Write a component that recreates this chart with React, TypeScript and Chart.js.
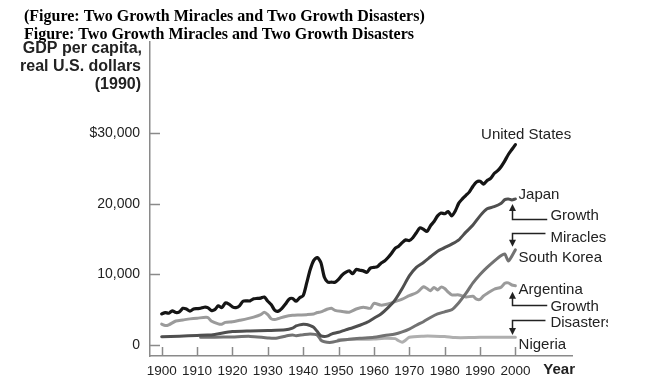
import React, { useEffect, useRef } from "react";
import { Chart, registerables } from "chart.js";

Chart.register(...registerables);

// ---------- data (GDP per capita, 1990 US$) ----------
const usYears = [1900,1901,1902,1903,1904,1905,1906,1907,1908,1909,1910,1911,1912,1913,1914,1915,1916,1917,1918,1919,1920,1921,1922,1923,1924,1925,1926,1927,1928,1929,1930,1931,1932,1933,1934,1935,1936,1937,1938,1939,1940,1941,1942,1943,1944,1945,1946,1947,1948,1949,1950,1951,1952,1953,1954,1955,1956,1957,1958,1959,1960,1961,1962,1963,1964,1965,1966,1967,1968,1969,1970,1971,1972,1973,1974,1975,1976,1977,1978,1979,1980,1981,1982,1983,1984,1985,1986,1987,1988,1989,1990,1991,1992,1993,1994,1995,1996,1997,1998,1999,2000];
const usValues = [4400,4600,4500,4850,4600,4700,5200,5100,4800,5100,5150,5200,5350,5300,4900,5000,5550,5300,5950,5800,5400,5300,5550,6200,6250,6250,6550,6600,6650,6800,6200,5700,4900,4800,5200,5800,6500,6600,6200,6700,7000,8800,10700,12000,12400,11700,9600,8900,8900,8900,9300,9900,10300,10500,10100,10700,10600,10500,10300,10900,11000,11100,11600,11900,12400,13000,13700,14000,14500,14900,14800,15200,15900,16600,16400,16100,16900,17500,18300,18700,18600,18900,18300,19000,20100,20700,21200,21700,22500,23100,23200,22800,23300,23600,24300,24700,25300,26100,27000,27700,28400];

const japanYears = [1900,1905,1910,1913,1915,1920,1925,1930,1935,1937,1938,1939,1940,1941,1942,1943,1944,1945,1946,1947,1948,1950,1952,1954,1956,1958,1960,1962,1964,1966,1968,1970,1972,1974,1976,1978,1980,1982,1984,1986,1988,1990,1992,1994,1996,1997,1998,1999,2000];
const japanValues = [1180,1250,1350,1400,1500,1900,2000,2050,2150,2400,2700,2850,2950,2900,2750,2500,1900,1300,1200,1300,1550,1800,2150,2450,2800,3200,3800,4400,5300,6400,8000,9800,11000,11700,12500,13300,13800,14300,14900,16000,17000,18300,19300,19600,20100,20600,20700,20550,20700];

const koreaYears = [1911,1915,1920,1925,1930,1932,1935,1937,1938,1940,1942,1944,1945,1946,1948,1950,1953,1956,1960,1963,1966,1968,1970,1972,1974,1976,1978,1980,1982,1984,1986,1988,1990,1992,1994,1996,1997,1998,1999,2000];
const koreaValues = [1080,1100,1150,1220,1000,950,1250,1400,1320,1450,1550,1400,700,450,380,600,800,950,1100,1350,1550,1850,2250,2800,3300,3900,4400,4700,5000,6000,7300,8800,10000,11000,11900,12700,12900,11900,12600,13500];

const argentinaYears = [1900,1901,1902,1904,1906,1908,1910,1913,1914,1916,1917,1918,1920,1922,1924,1926,1928,1929,1930,1931,1932,1933,1935,1937,1939,1941,1943,1944,1945,1946,1947,1948,1949,1951,1953,1955,1957,1959,1960,1962,1964,1966,1968,1970,1972,1973,1974,1975,1976,1977,1978,1979,1980,1981,1982,1984,1986,1988,1989,1990,1991,1992,1994,1996,1997,1998,1999,2000];
const argentinaValues = [2950,2750,2850,3400,3550,3700,3800,3900,3400,3000,2950,3200,3300,3500,3700,3950,4300,4650,4300,3700,3600,3750,4050,4200,4250,4300,4400,4600,4700,4900,5100,5200,4900,4750,4650,5100,5350,5200,5900,5650,5800,6150,6500,7000,7400,7800,8250,8000,7700,8150,7800,8200,8000,7500,7100,7100,6800,6900,6500,6450,6950,7300,7900,8200,8750,8800,8500,8400];

const nigeriaYears = [1950,1955,1960,1963,1966,1967,1968,1969,1970,1974,1977,1980,1983,1987,1990,1995,2000];
const nigeriaValues = [750,800,850,950,900,600,400,700,1100,1250,1250,1200,1050,1050,1100,1100,1100];

const xTickValues = [1900,1910,1920,1930,1940,1950,1960,1970,1980,1990,2000];
const yTickValues = [0,10000,20000,30000];

// ---------- annotations (data units) ----------
const seriesLabels = [
  { text: "United States", x: 1990.3, y: 29760 },
  { text: "Japan", x: 2000.9, y: 21255 },
  { text: "Growth", x: 2009.9, y: 18280 },
  { text: "Miracles", x: 2009.9, y: 15230 },
  { text: "South Korea", x: 2000.9, y: 12330 },
  { text: "Argentina", x: 2000.9, y: 7790 },
  { text: "Growth", x: 2009.9, y: 5385 },
  { text: "Disasters", x: 2009.9, y: 3120 },
  { text: "Nigeria", x: 2000.9, y: 70 },
];
// bracket arrows: [xStem, yTip, yCorner, xEnd]
const brackets = [
  { xs: 1999.1, tip: 19980, corner: 17810, xe: 2009.0 },
  { xs: 1999.1, tip: 13930, corner: 15830, xe: 2008.5 },
  { xs: 1999.1, tip: 7550, corner: 5670, xe: 2009.0 },
  { xs: 1999.1, tip: 1420, corner: 3540, xe: 2008.5 },
];

const SANS = '"Liberation Sans", Arial, Helvetica, sans-serif';
const SERIF = '"Liberation Serif", "Times New Roman", serif';

export default function App() {
  const ref = useRef<HTMLCanvasElement>(null);

  useEffect(() => {
    const canvas = ref.current;
    if (!canvas) return;
    const pts = (xs: number[], ys: number[]) => xs.map((x, i) => ({ x, y: ys[i] }));

    const overlay = {
      id: "overlay",
      afterDraw(chart: any) {
        const ctx = chart.ctx as CanvasRenderingContext2D;
        const xs = chart.scales.x;
        const ys = chart.scales.y;
        const area = chart.chartArea;
        ctx.save();
        // inward tick marks
        ctx.strokeStyle = "#8a8a8a";
        ctx.lineWidth = 1.5;
        yTickValues.forEach((v) => {
          const py = Math.round(ys.getPixelForValue(v)) + 0.5;
          ctx.beginPath();
          ctx.moveTo(area.left, py);
          ctx.lineTo(area.left + 10, py);
          ctx.stroke();
        });
        xTickValues.forEach((v) => {
          const px = Math.round(xs.getPixelForValue(v)) + 0.5;
          ctx.beginPath();
          ctx.moveTo(px, area.bottom);
          ctx.lineTo(px, area.bottom - 9);
          ctx.stroke();
        });

        // titles
        ctx.fillStyle = "#000";
        ctx.textAlign = "left";
        ctx.textBaseline = "alphabetic";
        ctx.font = `bold 16px ${SERIF}`;
        ctx.fillText("(Figure: Two Growth Miracles and Two Growth Disasters)", 24, 21);
        ctx.fillText("Figure: Two Growth Miracles and Two Growth Disasters", 24, 39);

        // y axis title
        ctx.fillStyle = "#222";
        ctx.font = `bold 16px ${SANS}`;
        ctx.textAlign = "right";
        ctx.fillText("GDP per capita,", 142, 52.5);
        ctx.fillText("real U.S. dollars", 141, 70.5);
        ctx.fillText("(1990)", 141, 88.5);

        // x axis title
        ctx.textAlign = "left";
        ctx.textBaseline = "middle";
        ctx.font = `bold 15px ${SANS}`;
        ctx.fillText("Year", xs.getPixelForValue(2007.9), 370);

        // series labels
        ctx.font = `15px ${SANS}`;
        ctx.fillStyle = "#222";
        seriesLabels.forEach((l) => {
          ctx.save();
          ctx.beginPath();
          ctx.rect(0, 0, 608, 385);
          ctx.clip();
          ctx.fillText(l.text, xs.getPixelForValue(l.x), ys.getPixelForValue(l.y));
          ctx.restore();
        });

        // bracket arrows
        ctx.strokeStyle = "#222";
        ctx.fillStyle = "#222";
        ctx.lineWidth = 1.5;
        brackets.forEach((b) => {
          const sx = Math.round(xs.getPixelForValue(b.xs)) + 0.5;
          const tipY = ys.getPixelForValue(b.tip);
          const cy = Math.round(ys.getPixelForValue(b.corner)) + 0.5;
          const ex = xs.getPixelForValue(b.xe);
          const dir = tipY < cy ? -1 : 1;
          ctx.beginPath();
          ctx.moveTo(ex, cy);
          ctx.lineTo(sx, cy);
          ctx.lineTo(sx, tipY - dir * 6);
          ctx.stroke();
          ctx.beginPath();
          ctx.moveTo(sx, tipY);
          ctx.lineTo(sx - 3.5, tipY - dir * 7);
          ctx.lineTo(sx + 3.5, tipY - dir * 7);
          ctx.closePath();
          ctx.fill();
        });
        ctx.restore();
      },
    };

    const chart = new Chart(canvas, {
      type: "line",
      data: {
        datasets: [
          { label: "United States", data: pts(usYears, usValues), borderColor: "#151515", borderWidth: 3.2 },
          { label: "Japan", data: pts(japanYears, japanValues), borderColor: "#4f4f4f" },
          { label: "South Korea", data: pts(koreaYears, koreaValues), borderColor: "#727272" },
          { label: "Argentina", data: pts(argentinaYears, argentinaValues), borderColor: "#9b9b9b" },
          { label: "Nigeria", data: pts(nigeriaYears, nigeriaValues), borderColor: "#afafaf" },
        ],
      },
      options: {
        responsive: false,
        animation: false,
        maintainAspectRatio: false,
        layout: { padding: { top: 42, right: 78, left: 0, bottom: 0 } },
        plugins: { legend: { display: false }, tooltip: { enabled: false } },
        elements: {
          point: { radius: 0 },
          line: { borderWidth: 3, tension: 0.25, borderJoinStyle: "round", borderCapStyle: "round", fill: false },
        },
        scales: {
          x: {
            type: "linear",
            min: 1896.7,
            max: 2016,
            afterBuildTicks: (s: any) => {
              s.ticks = xTickValues.map((v) => ({ value: v }));
            },
            afterFit: (s: any) => {
              s.height = 29;
            },
            grid: { display: false, drawTicks: false },
            border: { display: true, color: "#8a8a8a", width: 1.5 },
            ticks: {
              padding: 7,
              color: "#222",
              autoSkip: false,
              maxRotation: 0,
              font: { family: SANS, size: 13.5 },
              callback: (v: any) => String(v),
            },
          },
          y: {
            type: "linear",
            min: -1560,
            max: 42940,
            afterBuildTicks: (s: any) => {
              s.ticks = yTickValues.map((v) => ({ value: v }));
            },
            afterFit: (s: any) => {
              s.width = 150;
            },
            grid: { display: false, drawTicks: false },
            border: { display: true, color: "#8a8a8a", width: 1.5 },
            ticks: {
              padding: 10,
              color: "#222",
              font: { family: SANS, size: 14 },
              callback: (v: any) => (v === 30000 ? "$30,000" : Number(v).toLocaleString("en-US")),
            },
          },
        },
      },
      plugins: [overlay],
    } as any);

    return () => chart.destroy();
  }, []);

  return (
    <div style={{ position: "fixed", left: 0, top: 0, width: 650, height: 385, background: "#fff" }}>
      <canvas ref={ref} width={650} height={385} style={{ display: "block" }} />
    </div>
  );
}
